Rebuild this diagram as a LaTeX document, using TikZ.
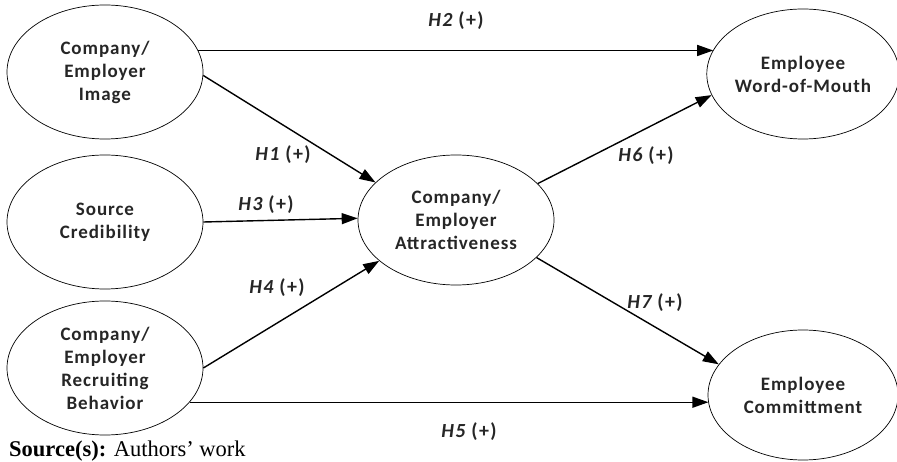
\documentclass[tikz,border=0pt]{standalone}
\usepackage{fontspec}
\setmainfont{Carlito}
\newfontfamily\boxfont[LetterSpace=5]{Carlito}
\newfontfamily\hypfont[LetterSpace=7]{Carlito}
\newfontfamily\srcfont{Liberation Serif}
\usetikzlibrary{shapes.geometric,arrows.meta}
\begin{document}
\begin{tikzpicture}[x=1pt,y=-1pt,
  construct/.style={ellipse,draw,line width=0.7pt,minimum width=196pt,minimum height=134pt,inner sep=0pt,align=center,font=\boxfont\fontsize{19}{23}\selectfont\bfseries,text=black!85},
  path/.style={line width=1.4pt,-{Triangle[length=16pt,width=11pt]}},
  hyp/.style={font=\hypfont\fontsize{20}{22}\selectfont\bfseries,text=black!85,inner sep=0pt}]
\useasboundingbox (0,0) rectangle (897,462);
\node[construct] (img) at (105,72) {Company/\\Employer\\Image};
\node[construct] (src) at (105,222) {Source\\Credibility};
\node[construct] (rec) at (105,368) {Company/\\Employer\\Recruiting\\Behavior};
\node[construct,minimum height=130pt] (att) at (456,220) {Company/\\Employer\\Attractiveness};
\node[construct,minimum width=190pt,minimum height=130pt] (wom) at (803,74) {Employee\\Word-of-Mouth};
\node[construct,minimum width=190pt,minimum height=130pt] (com) at (803,395) {Employee\\Committment};
\draw[path] (img.13) -- (img.13 -| wom.165);
\draw[path] (img.-2) -- (att.155);
\draw[path] (src.0) -- (att.179);
\draw[path] (rec.0) -- (att.208);
\draw[path] (rec.-22.7) -- (rec.-22.7 -| com.185);
\draw[path] (att.24.5) -- (wom.193);
\draw[path] (att.-25.7) -- (com.160.6);
\node[hyp] (h2) at (456,21) {\itshape H2 \upshape(+)};
\node[hyp] (h1) at (283,155) {\itshape H1 \upshape(+)};
\node[hyp] (h3) at (266,205) {\itshape H3 \upshape(+)};
\node[hyp] (h4) at (277,288) {\itshape H4 \upshape(+)};
\node[hyp] (h5) at (469,432) {\itshape H5 \upshape(+)};
\node[hyp] (h6) at (646,156) {\itshape H6 \upshape(+)};
\node[hyp] (h7) at (655,303) {\itshape H7 \upshape(+)};
\node[anchor=base west,inner sep=0pt,font=\srcfont\fontsize{22.5}{25}\selectfont] (source) at (9,456.5) {\textbf{Source(s):} Authors’ work};
\end{tikzpicture}
\end{document}
